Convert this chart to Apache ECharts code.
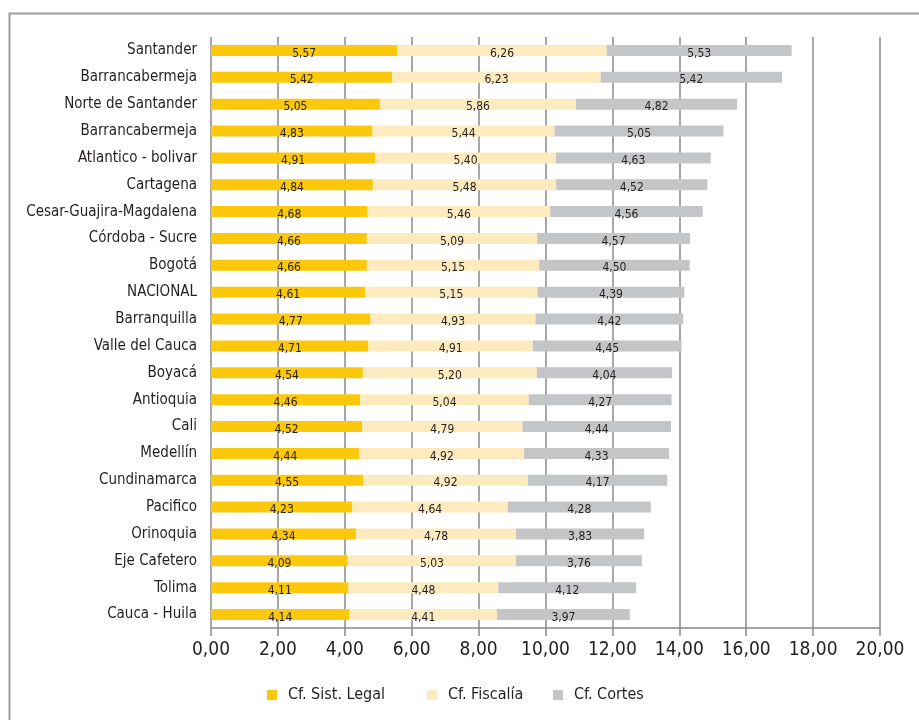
<!DOCTYPE html>
<html>
<head>
<meta charset="utf-8">
<script src="https://cdn.jsdelivr.net/npm/echarts@6/dist/echarts.min.js"></script>
<style>
  html, body { margin: 0; padding: 0; background: #fff; }
  #chart { width: 919px; height: 720px; }
</style>
</head>
<body>
<div id="chart"></div>
<script>
// Regions, top to bottom
const categories = [
  'Santander', 'Barrancabermeja', 'Norte de Santander', 'Barrancabermeja',
  'Atlantico - bolivar', 'Cartagena', 'Cesar-Guajira-Magdalena', 'Córdoba - Sucre',
  'Bogotá', 'NACIONAL', 'Barranquilla', 'Valle del Cauca', 'Boyacá', 'Antioquia',
  'Cali', 'Medellín', 'Cundinamarca', 'Pacifico', 'Orinoquia', 'Eje Cafetero',
  'Tolima', 'Cauca - Huila'
];

const sistLegal = [5.57, 5.42, 5.05, 4.83, 4.91, 4.84, 4.68, 4.66, 4.66, 4.61, 4.77,
  4.71, 4.54, 4.46, 4.52, 4.44, 4.55, 4.23, 4.34, 4.09, 4.11, 4.14];
const fiscalia = [6.26, 6.23, 5.86, 5.44, 5.40, 5.48, 5.46, 5.09, 5.15, 5.15, 4.93,
  4.91, 5.20, 5.04, 4.79, 4.92, 4.92, 4.64, 4.78, 5.03, 4.48, 4.41];
const cortes = [5.53, 5.42, 4.82, 5.05, 4.63, 4.52, 4.56, 4.57, 4.50, 4.39, 4.42,
  4.45, 4.04, 4.27, 4.44, 4.33, 4.17, 4.28, 3.83, 3.76, 4.12, 3.97];

const seriesNames = ['Cf. Sist. Legal', 'Cf. Fiscalía', 'Cf. Cortes'];
const seriesColors = ['#fcc80c', '#fdebbf', '#c4c5c7'];

const FONT = '"Liberation Sans Narrow", "DejaVu Sans Condensed", sans-serif';
const INK = '#231f20';
const GRID = '#8a8a8a';

const fmt = v => Number(v).toFixed(2).replace('.', ',');

function barSeries(name, data, color) {
  return {
    name: name,
    type: 'bar',
    stack: 'total',
    data: data,
    barWidth: 11,
    itemStyle: { color: color },
    label: {
      show: true,
      position: 'inside',
      offset: [0, 3],
      color: INK,
      fontFamily: FONT,
      fontSize: 12,
      formatter: p => fmt(p.value)
    },
    emphasis: { disabled: true }
  };
}

function legendAt(left, name) {
  return {
    data: [name],
    left: left,
    top: 682,
    itemWidth: 10,
    itemHeight: 10,
    icon: 'rect',
    itemGap: 0,
    selectedMode: false,
    textStyle: {
      color: INK,
      fontFamily: FONT,
      fontSize: 16,
      padding: [0, 0, 0, 6]
    }
  };
}

const chart = echarts.init(document.getElementById('chart'), null, { renderer: 'canvas' });

chart.setOption({
  backgroundColor: '#fff',
  animation: false,
  graphic: [{
    type: 'rect',
    left: 7,
    top: 11,
    shape: { width: 1000, height: 1000 },
    style: { fill: 'none', stroke: '#9c9c9c', lineWidth: 2 },
    silent: true
  }],
  legend: [
    legendAt(262, seriesNames[0]),
    legendAt(422, seriesNames[1]),
    legendAt(548, seriesNames[2])
  ],
  grid: {
    left: 211,
    right: 39,
    top: 37,
    bottom: 92,
    containLabel: false
  },
  xAxis: {
    type: 'value',
    min: 0,
    max: 20,
    interval: 2,
    axisLine: { show: true, lineStyle: { color: GRID, width: 1.5 } },
    axisTick: { show: true, length: 8, lineStyle: { color: GRID, width: 1.5 } },
    splitLine: { show: true, lineStyle: { color: GRID, width: 1.5 } },
    axisLabel: {
      color: INK,
      fontFamily: FONT,
      fontSize: 19,
      margin: 13,
      formatter: v => fmt(v)
    }
  },
  yAxis: {
    type: 'category',
    data: categories,
    inverse: true,
    axisLine: { show: false },
    axisTick: { show: false },
    splitLine: { show: false },
    axisLabel: {
      color: INK,
      fontFamily: FONT,
      fontSize: 15,
      margin: 14,
      padding: [0, 0, 11, 0]
    }
  },
  series: [
    barSeries(seriesNames[0], sistLegal, seriesColors[0]),
    barSeries(seriesNames[1], fiscalia, seriesColors[1]),
    barSeries(seriesNames[2], cortes, seriesColors[2])
  ]
});
</script>
</body>
</html>
